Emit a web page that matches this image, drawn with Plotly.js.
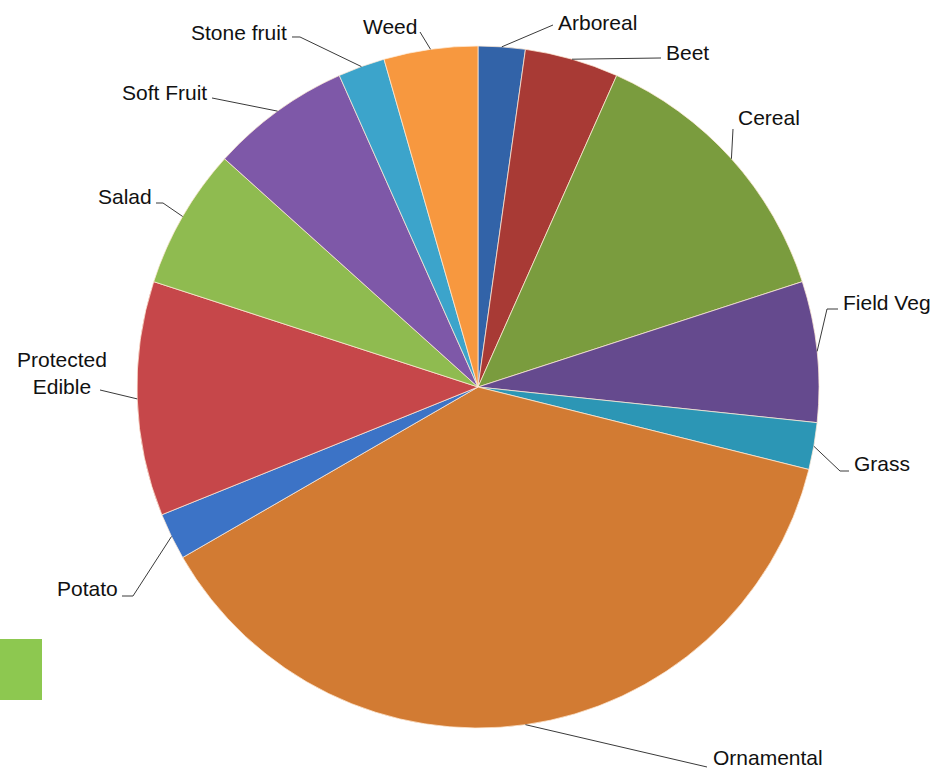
<!DOCTYPE html>
<html><head><meta charset="utf-8">
<script src="https://cdn.plot.ly/plotly-3.0.1.min.js"></script>
<style>html,body{margin:0;padding:0;background:#fff}#chart{width:936px;height:770px}</style>
</head><body><div id="chart"></div>
<script>
// ---- data ----
const categories = ["Arboreal","Beet","Cereal","Field Veg","Grass","Ornamental","Potato","Protected Edible","Salad","Soft Fruit","Stone fruit","Weed"];
const counts = [1,2,6,3,1,17,1,5,3,3,1,2];
const labelText = ["Arboreal","Beet","Cereal","Field Veg","Grass","Ornamental","Potato","Protected<br>Edible","Salad","Soft Fruit","Stone fruit","Weed"];

// ---- styles / layout ----
const sliceColors = ["#3263A8","#A83A35","#7A9C3E","#654A8E","#2C96B5","#D27B33","#3C73C6","#C6474A","#8FBB50","#7E58A8","#3CA4CB","#F7983F"];
const W = 936, H = 770;
const pieBox = {left:137, right:819, top:45, bottom:729};
// label placement in pixels: text x, text y, xanchor, leader start [x,y], optional elbow [x,y]
const labelPlace = [
  {x:556, y:22,  xa:"left",   s:[553,25],  e:null},
  {x:664, y:52,  xa:"left",   s:[661,58],  e:null},
  {x:736, y:117, xa:"left",   s:[733,129], e:null},
  {x:841, y:302, xa:"left",   s:[838,309], e:[827,309]},
  {x:852, y:463, xa:"left",   s:[849,471], e:[840,471]},
  {x:711, y:757, xa:"left",   s:[707,767], e:null},
  {x:120, y:588, xa:"right",  s:[122,596], e:[133,596]},
  {x:62,  y:373, xa:"center", s:[100,390], e:null},
  {x:154, y:197, xa:"right",  s:[156,203], e:[163,203]},
  {x:209, y:93,  xa:"right",  s:[212,98],  e:null},
  {x:289, y:32,  xa:"right",  s:[292,37],  e:[300,37]},
  {x:419, y:26,  xa:"right",  s:[420,32],  e:null}
];

const px = x => x / W;
const py = y => 1 - y / H;

const cx = (pieBox.left + pieBox.right) / 2;
const cy = (pieBox.top + pieBox.bottom) / 2;
const R = Math.min(pieBox.right - pieBox.left, pieBox.bottom - pieBox.top) / 2;

const total = counts.reduce((a,b)=>a+b,0);
let cum = 0;
const shapes = [];
const annotations = [];
counts.forEach((v,i)=>{
  const th = 2*Math.PI*(cum + v/2)/total;
  cum += v;
  const ax = cx + R*Math.sin(th), ay = cy - R*Math.cos(th);
  const L = labelPlace[i];
  let pts = [L.s];
  if (L.e) pts.push(L.e);
  pts.push([ax, ay]);
  const path = pts.map((p,k)=>(k?"L":"M")+px(p[0]).toFixed(5)+","+py(p[1]).toFixed(5)).join(" ");
  shapes.push({type:"path", xref:"paper", yref:"paper", path:path, line:{color:"#3a3a3a", width:1}});
  annotations.push({xref:"paper", yref:"paper", x:px(L.x), y:py(L.y), xanchor:L.xa, yanchor:"middle",
    text:labelText[i], showarrow:false, align:"center",
    font:{family:"Liberation Sans, Arial, sans-serif", size:21, color:"#111111"}});
});

// partial legend swatch at left edge
shapes.push({type:"rect", xref:"paper", yref:"paper", x0:0, x1:px(42), y0:py(700), y1:py(639),
  fillcolor:"#8DC850", line:{width:0}});

const trace = {
  type:"pie", values:counts, labels:categories, sort:false, direction:"clockwise", rotation:0,
  textinfo:"none", hoverinfo:"label+value",
  marker:{colors:sliceColors, line:{color:"rgba(255,235,215,0.75)", width:1}},
  domain:{x:[px(pieBox.left), px(pieBox.right)], y:[py(pieBox.bottom), py(pieBox.top)]}
};

Plotly.newPlot("chart", [trace], {
  width:W, height:H, margin:{l:0,r:0,t:0,b:0}, showlegend:false,
  paper_bgcolor:"#fff", plot_bgcolor:"#fff", shapes:shapes, annotations:annotations
}, {displayModeBar:false, staticPlot:true});
</script></body></html>
